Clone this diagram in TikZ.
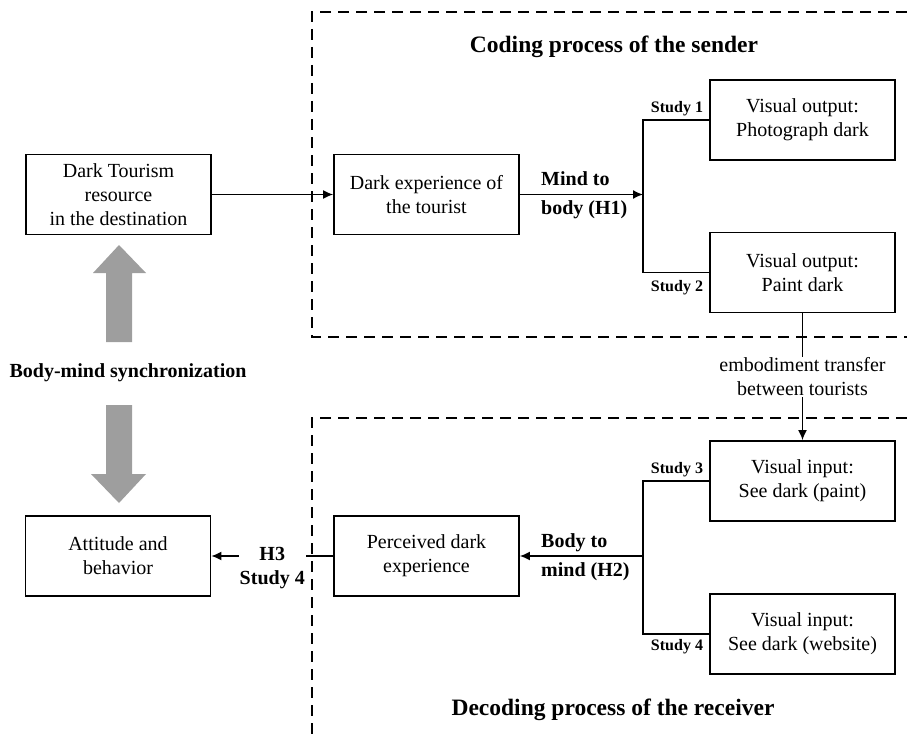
\documentclass[tikz,border=0pt]{standalone}
\usepackage{fontspec}
\setmainfont{Liberation Serif}
\usetikzlibrary{arrows.meta}
\definecolor{arrowgray}{RGB}{158,158,158}
\begin{document}
\begin{tikzpicture}[x=1pt,y=-1pt,
  box/.style={draw, line width=1.7pt, minimum width=185pt, minimum height=80pt, inner sep=0pt, align=center, font=\fontsize{20}{24}\selectfont},
  conn/.style={line width=1.6pt},
  arr/.style={line width=1.6pt, -{Latex[length=10pt,width=9pt]}},
  frame/.style={line width=1.3pt, dash pattern=on 11pt off 7pt},
  study/.style={font=\bfseries\fontsize{16}{18}\selectfont, inner sep=0pt},
  lbl/.style={font=\bfseries\fontsize{20}{29}\selectfont, inner sep=0pt},
  ttl/.style={font=\bfseries\fontsize{23.5}{28}\selectfont, inner sep=0pt},
  plain/.style={font=\fontsize{20}{24}\selectfont, align=center, inner sep=1pt}
]
\useasboundingbox (0,0) rectangle (907,741);

% dashed frames
\draw[frame] (907,12) -- (312,12) -- (312,337) -- (907,337);
\draw[frame] (907,418) -- (312,418) -- (312,741);

% titles
\node[ttl] (t1) at (614,47) {Coding process of the sender};
\node[ttl] (t2) at (613,710) {Decoding process of the receiver};

% boxes
\node[box] (dt) at (118.5,194.5) {Dark Tourism\\resource\\in the destination};
\node[box] (de) at (426.5,194.5) {Dark experience of\\the tourist};
\node[box] (po1) at (802.5,120) {Visual output:\\Photograph dark};
\node[box] (po2) at (802.5,272.5) {Visual output:\\Paint dark};
\node[box] (vi1) at (802.5,481) {Visual input:\\See dark (paint)};
\node[box] (vi2) at (802.5,634) {Visual input:\\See dark (website)};
\node[box] (att) at (118,556) {Attitude and\\behavior};
\node[box] (perc) at (426.5,556) {Perceived dark\\experience};

% junctions
\coordinate (j1) at (643,194.5);
\coordinate (j2) at (643,556);

% connectors
\draw[arr] (dt.east) -- (de.west);
\draw[arr] (de.east) -- (j1);
\draw[conn] (po1.west) -| (j1) |- (po2.west);
\draw[conn] (vi1.west) -| (j2) |- (vi2.west);
\draw[arr] (j2) -- (perc.east);
\draw[arr] (po2.south) -- node[plain, fill=white] (emb) {embodiment transfer\\between tourists} (vi1.north);
\draw[arr] (perc.west) -- node[plain, font=\bfseries\fontsize{20}{24}\selectfont, fill=white, yshift=-12pt, inner xsep=1pt] (h3) {H3\\Study 4} (att.east);

% labels
\node[lbl, anchor=west, align=left] (m2b) at (541,195.5) {Mind to\\body (H1)};
\node[lbl, anchor=west, align=left] (b2m) at (541,557.5) {Body to\\mind (H2)};
\node[study] (s1) at (677,109) {Study 1};
\node[study] (s2) at (677,288) {Study 2};
\node[study] (s3) at (677,470) {Study 3};
\node[study] (s4) at (677,647) {Study 4};

% gray arrows
\fill[arrowgray] (106,342) -- (106,273) -- (93,273) -- (119,245) -- (146,273) -- (132,273) -- (132,342) -- cycle;
\fill[arrowgray] (106,405) -- (106,474) -- (91,474) -- (119,503) -- (146,474) -- (132,474) -- (132,405) -- cycle;
\node[lbl] (bms) at (128,373) {Body-mind synchronization};
\end{tikzpicture}
\end{document}
